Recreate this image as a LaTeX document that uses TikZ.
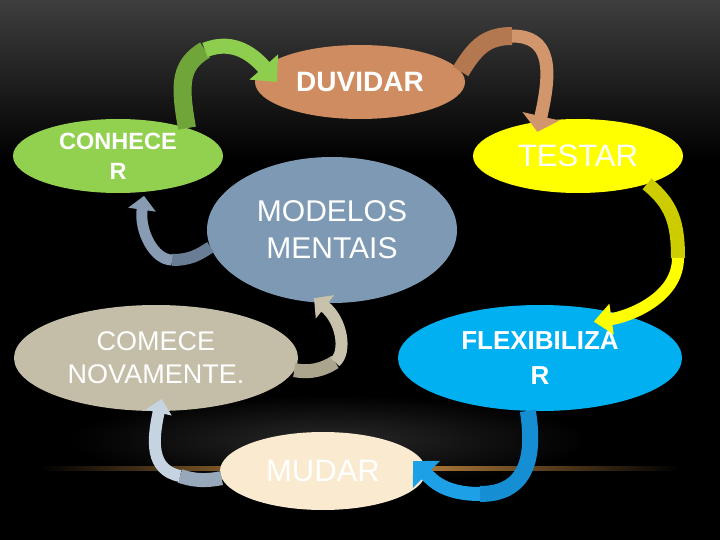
\documentclass[tikz,border=0pt]{standalone}
\usepackage{fontspec}
\setmainfont{Liberation Sans}
\usetikzlibrary{arrows.meta,shapes.geometric}

\definecolor{bgtop}{RGB}{62,62,62}
\definecolor{glow}{RGB}{215,150,70}
\definecolor{duvidarc}{RGB}{206,140,96}
\definecolor{testarc}{RGB}{255,255,0}
\definecolor{conhecerc}{RGB}{146,208,80}
\definecolor{modelosc}{RGB}{126,153,180}
\definecolor{comecec}{RGB}{196,189,168}
\definecolor{flexc}{RGB}{0,176,240}
\definecolor{mudarc}{RGB}{250,234,208}
\definecolor{grndark}{RGB}{112,165,58}
\definecolor{grnlight}{RGB}{142,206,78}
\definecolor{brndark}{RGB}{180,120,80}
\definecolor{brnlight}{RGB}{210,150,108}
\definecolor{yeldark}{RGB}{204,204,0}
\definecolor{yellight}{RGB}{255,255,0}
\definecolor{bludark}{RGB}{22,142,212}
\definecolor{blulight}{RGB}{30,160,230}
\definecolor{skydark}{RGB}{150,168,186}
\definecolor{skylight}{RGB}{198,212,226}
\definecolor{begdark}{RGB}{170,165,140}
\definecolor{beglight}{RGB}{200,194,172}
\definecolor{gbdark}{RGB}{105,125,148}
\definecolor{gblight}{RGB}{135,155,178}

\begin{document}
\begin{tikzpicture}[x=1pt,y=-1pt,
  phase/.style={ellipse,inner sep=0pt,outer sep=0pt,align=center,text=white},
  band/.style={line width=#1},
  tipped/.style n args={3}{line width=#1,-{Triangle[width=#2,length=#3]}}
]
\useasboundingbox (0,0) rectangle (720,540);
% background
\fill[black] (0,0) rectangle (720,540);
\shade[top color=bgtop,bottom color=black] (0,0) rectangle (720,160);
\shade[inner color=black!84!white,outer color=black] (330,440) ellipse [x radius=260pt,y radius=45pt];
\shade[left color=black,right color=black,middle color=glow] (40,466) rectangle (680,470);

% phases
\node[phase,fill=duvidarc,minimum width=210pt,minimum height=74pt,font=\bfseries\fontsize{28}{34}\selectfont] (duvidar) at (360,82) {DUVIDAR};
\node[phase,fill=testarc,minimum width=210pt,minimum height=74pt,font=\fontsize{31}{36}\selectfont] (testar) at (578,156) {TESTAR};
\node[phase,fill=conhecerc,minimum width=210pt,minimum height=74pt,font=\bfseries\fontsize{23.5}{30}\selectfont] (conhecer) at (118,156) {CONHECE\\R};
\node[phase,fill=modelosc,minimum width=250pt,minimum height=146pt,font=\fontsize{30}{37}\selectfont] (modelos) at (332,230) {MODELOS\\MENTAIS};
\node[phase,fill=comecec,minimum width=284pt,minimum height=106pt,font=\fontsize{27}{33}\selectfont] (comece) at (156,358) {COMECE\\NOVAMENTE.};
\node[phase,fill=flexc,minimum width=284pt,minimum height=106pt,font=\bfseries\fontsize{26}{35}\selectfont] (flex) at (540,358) {FLEXIBILIZA\\R};
\node[phase,fill=mudarc,minimum width=206pt,minimum height=78pt,font=\fontsize{31}{36}\selectfont] (mudar) at (323,471) {MUDAR};

% curved arrows, darker back part then lighter front part
\coordinate (gbend) at (205,50);
\draw[band=18pt,grndark] (conhecer.22) .. controls +(-8,-45) and +(-25,15) .. (gbend);
\draw[tipped={15pt}{37pt}{20pt},grnlight] (gbend) .. controls +(30,-12) and +(-22,-25) .. ([xshift=22pt]duvidar.west);

\coordinate (bbend) at (512,36);
\draw[band=18pt,brndark] (duvidar.6) .. controls +(15,-25) and +(-25,0) .. (bbend);
\draw[tipped={13pt}{37pt}{16pt},brnlight] (bbend) .. controls +(38,0) and +(15,-65) .. ([yshift=-10pt]testar.140);

\coordinate (ybend) at (678,258);
\draw[band=14pt,yeldark] (testar.-22) .. controls +(25,20) and +(0,-35) .. (ybend);
\draw[tipped={12pt}{30pt}{18pt},yellight] (ybend) .. controls +(0,40) and +(35,-5) .. ([shift={(-15,10)}]flex.34);

\coordinate (fbend) at (480,494);
\draw[band=16pt,bludark] (flex.257) .. controls +(8,49) and +(45,0) .. (fbend);
\draw[tipped={14pt}{37pt}{19pt},blulight] (fbend) .. controls +(-35,0) and +(20,20) .. ([shift={(-13,-10)}]mudar.east);

\coordinate (mbend) at (180,476);
\draw[band=14pt,skydark] (mudar.184) .. controls +(-15,3) and +(15,5) .. (mbend);
\draw[tipped={12pt}{26pt}{14pt},skylight] (mbend) .. controls +(-30,-6) and +(-9,41) .. ([yshift=12pt]comece.-84);

\coordinate (cbend) at (335,362);
\draw[band=14pt,begdark] (comece.-5) .. controls +(15,3) and +(-12,8) .. (cbend);
\draw[tipped={12pt}{29pt}{14pt},beglight] (cbend) .. controls +(12,-10) and +(28,22) .. ([yshift=4pt]modelos.-104);

\coordinate (mmbend) at (172,260);
\draw[band=12pt,gbdark] (modelos.188) .. controls +(-12,8) and +(18,0) .. (mmbend);
\draw[tipped={11pt}{27pt}{14pt},gblight] (mmbend) .. controls +(-18,0) and +(-5,35) .. ([yshift=-4pt]conhecer.-54);
\end{tikzpicture}
\end{document}
